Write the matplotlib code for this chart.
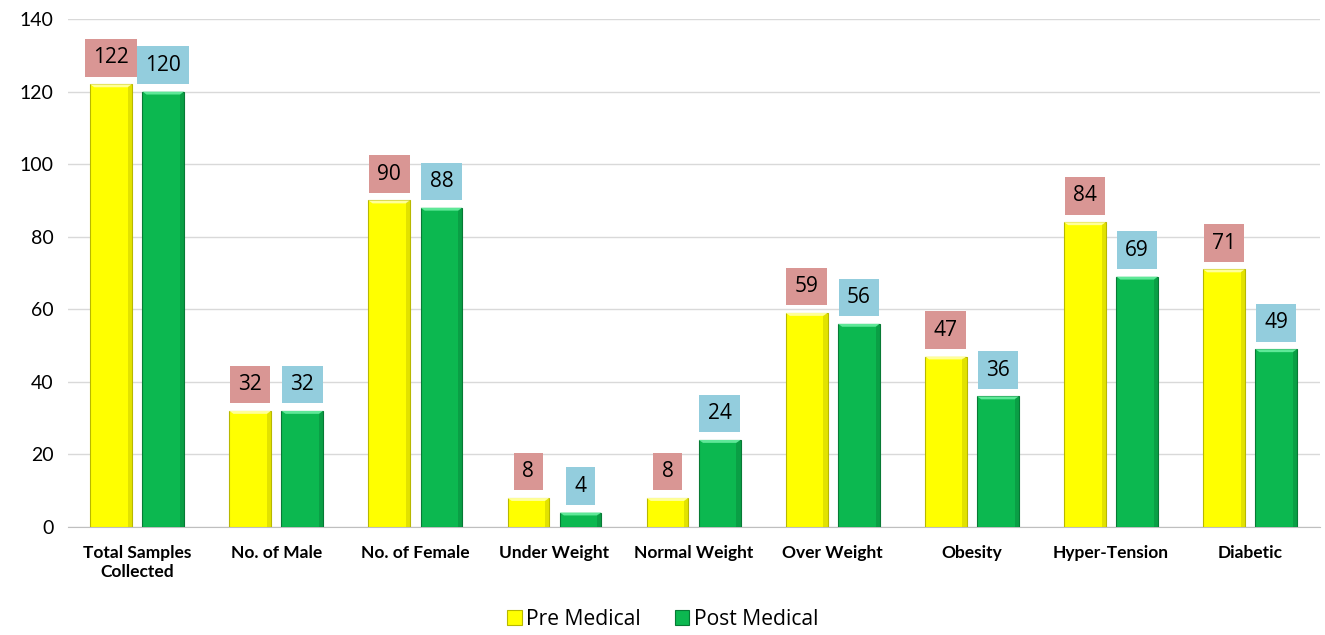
import matplotlib
matplotlib.use('Agg')
import matplotlib.pyplot as plt
import numpy as np
from matplotlib.patches import Polygon

plt.rcParams['font.family'] = ['Lato', 'DejaVu Sans']

categories = ['Total Samples\nCollected', 'No. of Male', 'No. of Female', 'Under Weight',
              'Normal Weight', 'Over Weight', 'Obesity', 'Hyper-Tension', 'Diabetic']
pre_medical = [122, 32, 90, 8, 8, 59, 47, 84, 71]
post_medical = [120, 32, 88, 4, 24, 56, 36, 69, 49]

fig = plt.figure(figsize=(13.25, 6.35), dpi=100)
ax = fig.add_axes([0.051, 0.170, 0.945, 0.800])

x = np.arange(len(categories))
w = 0.30
gap = 0.075


def bevel_bars(xs, vals, face, light, dark):
    bars = ax.bar(xs, vals, w, color=face, edgecolor=dark, linewidth=0.8, zorder=3)
    # simple bevel: light strip on top, darker strip on the right
    for b in bars:
        x0 = b.get_x()
        x1 = x0 + b.get_width()
        h = b.get_height()
        d = 0.03
        dv = 0.8
        top = Polygon([[x0, h], [x1, h], [x1 - d, h - dv], [x0 + d, h - dv]],
                      closed=True, facecolor=light, edgecolor='none', zorder=4)
        right = Polygon([[x1, h], [x1, 0], [x1 - d, 0], [x1 - d, h - dv]],
                        closed=True, facecolor=dark, edgecolor='none', zorder=4, alpha=0.4)
        ax.add_patch(top)
        ax.add_patch(right)
    return bars


b1 = bevel_bars(x - (w + gap) / 2, pre_medical, '#ffff00', '#ffff99', '#b8b800')
b2 = bevel_bars(x + (w + gap) / 2, post_medical, '#0cb850', '#5fe898', '#077a35')

for xs, vals, col in [(x - (w + gap) / 2, pre_medical, '#d99694'),
                      (x + (w + gap) / 2, post_medical, '#93cddd')]:
    for xi, v in zip(xs, vals):
        ax.annotate(str(v), (xi, v), xytext=(0, 19), textcoords='offset points',
                    ha='center', va='center', fontsize=15, color='black', zorder=5,
                    family=['Open Sans', 'DejaVu Sans'],
                    bbox=dict(boxstyle='square,pad=0.4', facecolor=col, edgecolor='none'))

ax.set_ylim(0, 140)
ax.set_xlim(-0.5, len(categories) - 0.5)
ax.set_yticks(range(0, 141, 20))
ax.set_xticks(x)
ax.set_xticklabels(categories, fontsize=12.5, fontweight='bold')
ax.tick_params(axis='y', labelsize=14, length=0, pad=10)
ax.tick_params(axis='x', length=0, pad=13)
ax.grid(axis='y', color='#d9d9d9', linewidth=1, zorder=0)
ax.set_axisbelow(True)
for s in ['top', 'right', 'left']:
    ax.spines[s].set_visible(False)
ax.spines['bottom'].set_color('#bfbfbf')

leg = fig.legend([b1, b2], ['Pre Medical', 'Post Medical'], loc='lower center',
                 bbox_to_anchor=(0.5, -0.022), ncol=2, frameon=False,
                 handlelength=0.7, handleheight=0.7, handletextpad=0.2, columnspacing=1.6,
                 prop={'family': ['Open Sans', 'DejaVu Sans'], 'size': 15.2})

fig.savefig('out.png', dpi=100)
